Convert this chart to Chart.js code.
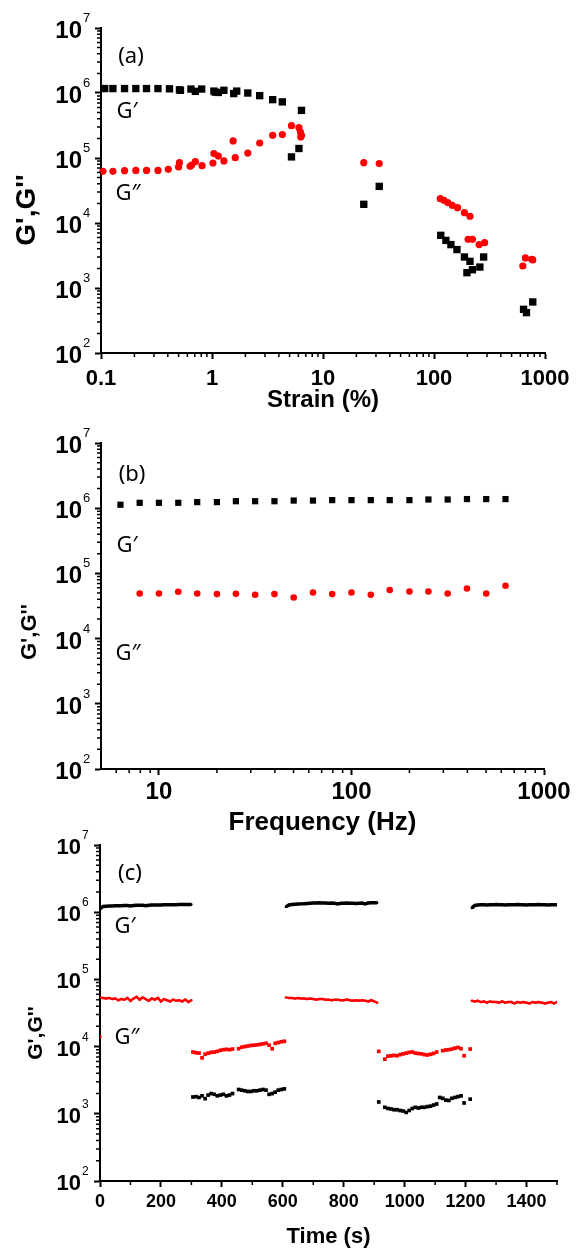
<!DOCTYPE html>
<html>
<head>
<meta charset="utf-8">
<script src="https://cdn.jsdelivr.net/npm/chart.js@4.4.1/dist/chart.umd.min.js"></script>
<style>
html, body { margin: 0; padding: 0; background: #fff; }
body { width: 579px; height: 1252px; position: relative; overflow: hidden; }
canvas { position: absolute; left: 0; }
</style>
</head>
<body>
<canvas id="chartA" width="579" height="420" style="top:0px"></canvas>
<canvas id="chartB" width="579" height="420" style="top:420px"></canvas>
<canvas id="chartC" width="579" height="426" style="top:826px"></canvas>
<script>
// ---- (a) strain sweep ----
const strainTicks = [0.1, 1, 10, 100, 1000];
const strainLabels = ["0.1", "1", "10", "100", "1000"];
const strainGp = [0.108, 0.128, 0.163, 0.206, 0.257, 0.326, 0.414, 0.509, 0.52, 0.646,
  0.708, 0.807, 1.04, 1.07, 1.14, 1.28, 1.57, 1.67, 2.1, 2.69,
  3.52, 4.3, 5.2, 6.07, 6.4, 23.3, 32.1, 115, 128, 142,
  161, 188, 211, 280, 198, 222, 259, 641, 681, 776];
const gpStrain = [1.17e6, 1.17e6, 1.17e6, 1.17e6, 1.17e6, 1.17e6, 1.16e6, 1.12e6, 1.1e6, 1.15e6,
  1.06e6, 1.15e6, 1.07e6, 1.03e6, 1.02e6, 1.1e6, 0.98e6, 1.07e6, 1.0e6, 0.91e6,
  0.79e6, 0.73e6, 1.04e5, 1.4e5, 5.4e5, 1.94e4, 3.66e4, 6.46e3, 5.4e3, 4.65e3,
  3.9e3, 3.0e3, 2.57e3, 3.0e3, 1.72e3, 1.91e3, 2.1e3, 470, 418, 610];
const strainGpp = [0.104, 0.128, 0.163, 0.206, 0.257, 0.326, 0.404, 0.5, 0.509, 0.635,
  0.655, 0.708, 0.813, 1.02, 1.04, 1.14, 1.28, 1.55, 1.62, 2.1,
  2.69, 3.52, 4.3, 5.2, 6.07, 6.26, 6.4, 6.3, 23.3, 32.1,
  114, 123, 133, 146, 163, 188, 211, 203, 222, 255,
  286, 631, 666, 759, 776];
const gppStrain = [6.24e4, 6.24e4, 6.38e4, 6.45e4, 6.45e4, 6.45e4, 6.7e4, 7.28e4, 8.48e4, 7.45e4,
  7.8e4, 8.78e4, 7.62e4, 8.37e4, 1.17e5, 1.07e5, 9.0e4, 1.83e5, 1.01e5, 1.19e5,
  1.7e5, 2.23e5, 2.29e5, 3.14e5, 2.93e5, 2.51e5, 2.23e5, 2.1e5, 8.48e4, 8.2e4,
  2.37e4, 2.23e4, 2.06e4, 1.87e4, 1.72e4, 1.44e4, 1.27e4, 5.6e3, 5.6e3, 4.65e3,
  4.98e3, 2.18e3, 2.9e3, 2.76e3, 2.7e3];

// ---- (b) frequency sweep ----
const freqTicks = [10, 100, 1000];
const freqLabels = ["10", "100", "1000"];
const freqGp = [6.31, 7.94, 10, 12.6, 15.8, 20, 25.1, 31.6, 39.8, 50.1, 63.1,
  79.4, 100, 126, 158, 200, 251, 316, 398, 501, 631];
const gpFreq = [1.13e6, 1.21e6, 1.21e6, 1.21e6, 1.24e6, 1.24e6, 1.28e6, 1.28e6, 1.28e6, 1.31e6, 1.31e6,
  1.33e6, 1.33e6, 1.33e6, 1.33e6, 1.33e6, 1.36e6, 1.36e6, 1.38e6, 1.38e6, 1.38e6];
const freqGpp = [7.94, 10, 12.6, 15.8, 20, 25.1, 31.6, 39.8, 50.1, 63.1,
  79.4, 100, 126, 158, 200, 251, 316, 398, 501, 631];
const gppFreq = [4.92e4, 4.92e4, 5.22e4, 4.92e4, 4.81e4, 4.86e4, 4.7e4, 4.81e4, 4.27e4, 5.1e4,
  4.81e4, 5.1e4, 4.7e4, 5.55e4, 5.29e4, 5.29e4, 4.92e4, 5.87e4, 4.92e4, 6.45e4];

// ---- (c) time sweep (recovery) ----
const timeTicks = [0, 200, 400, 600, 800, 1000, 1200, 1400];
const timeLabels = ["0", "200", "400", "600", "800", "1000", "1200", "1400"];
const tHi1 = [0, 10, 20, 30, 40, 50, 60, 70, 80, 90, 100, 110, 120, 130, 140, 150, 160, 170, 180, 190,
  200, 210, 220, 230, 240, 250, 260, 270, 280, 290, 300];
const gpHi1 = [1.12e6, 1.22e6, 1.23e6, 1.24e6, 1.24e6, 1.25e6, 1.25e6, 1.25e6, 1.26e6, 1.26e6,
  1.24e6, 1.26e6, 1.27e6, 1.27e6, 1.27e6, 1.25e6, 1.27e6, 1.28e6, 1.28e6, 1.28e6,
  1.28e6, 1.29e6, 1.29e6, 1.29e6, 1.29e6, 1.29e6, 1.30e6, 1.30e6, 1.30e6, 1.30e6, 1.30e6];
const gppHi1 = [5.4e4, 5.3e4, 5.2e4, 5.3e4, 5.1e4, 5.2e4, 4.9e4, 5.1e4, 5.0e4, 5.3e4,
  4.8e4, 5.2e4, 5.5e4, 5.0e4, 5.4e4, 5.1e4, 4.8e4, 5.2e4, 5.0e4, 5.3e4,
  4.7e4, 5.1e4, 4.9e4, 4.7e4, 5.0e4, 4.8e4, 4.9e4, 4.7e4, 5.0e4, 4.6e4, 4.9e4];
const tHi2 = [610, 620, 630, 640, 650, 660, 670, 680, 690, 700, 710, 720, 730, 740, 750, 760, 770, 780,
  790, 800, 810, 820, 830, 840, 850, 860, 870, 880, 890, 900, 910];
const gpHi2 = [1.20e6, 1.28e6, 1.30e6, 1.31e6, 1.32e6, 1.33e6, 1.34e6, 1.35e6, 1.36e6, 1.37e6,
  1.37e6, 1.38e6, 1.37e6, 1.37e6, 1.36e6, 1.37e6, 1.36e6, 1.33e6, 1.36e6, 1.36e6,
  1.37e6, 1.36e6, 1.36e6, 1.35e6, 1.36e6, 1.37e6, 1.33e6, 1.37e6, 1.38e6, 1.38e6, 1.38e6];
const gppHi2 = [5.4e4, 5.3e4, 5.3e4, 5.2e4, 5.3e4, 5.2e4, 5.2e4, 5.1e4, 5.2e4, 5.1e4,
  5.0e4, 5.1e4, 5.1e4, 5.0e4, 5.0e4, 4.9e4, 5.0e4, 5.0e4, 4.9e4, 4.9e4,
  5.0e4, 4.9e4, 4.8e4, 4.9e4, 4.8e4, 4.9e4, 4.8e4, 4.7e4, 4.9e4, 4.7e4, 4.5e4];
const tHi3 = [1220, 1230, 1240, 1250, 1260, 1270, 1280, 1290, 1300, 1310, 1320, 1330, 1340, 1350, 1360,
  1370, 1380, 1390, 1400, 1410, 1420, 1430, 1440, 1450, 1460, 1470, 1480, 1490, 1500];
const gpHi3 = [1.15e6, 1.26e6, 1.28e6, 1.29e6, 1.29e6, 1.28e6, 1.29e6, 1.29e6, 1.30e6, 1.29e6,
  1.29e6, 1.28e6, 1.29e6, 1.29e6, 1.29e6, 1.30e6, 1.29e6, 1.29e6, 1.28e6, 1.29e6,
  1.29e6, 1.29e6, 1.30e6, 1.29e6, 1.29e6, 1.28e6, 1.29e6, 1.29e6, 1.29e6];
const gppHi3 = [4.8e4, 4.7e4, 4.8e4, 4.6e4, 4.7e4, 4.5e4, 4.7e4, 4.6e4, 4.6e4, 4.5e4,
  4.7e4, 4.5e4, 4.6e4, 4.6e4, 4.4e4, 4.6e4, 4.5e4, 4.6e4, 4.5e4, 4.4e4,
  4.6e4, 4.5e4, 4.6e4, 4.5e4, 4.4e4, 4.5e4, 4.6e4, 4.4e4, 4.6e4];
const tLo1 = [305, 315, 325, 335, 345, 355, 365, 375, 385, 395, 405, 415, 425, 435, 445, 455, 465, 475,
  485, 495, 505, 515, 525, 535, 545, 555, 565, 575, 585, 595, 605];
const gpLo1 = [1.78e3, 1.80e3, 1.75e3, 1.85e3, 1.68e3, 1.90e3, 2.00e3, 1.95e3, 1.85e3, 1.90e3,
  1.95e3, 1.85e3, 1.90e3, 2.00e3, null, 2.30e3, 2.25e3, 2.20e3, 2.15e3, 2.15e3,
  2.20e3, 2.20e3, 2.25e3, 2.30e3, 2.25e3, 1.95e3, 2.00e3, 2.10e3, 2.25e3, 2.30e3, 2.35e3];
const gppLo1 = [8.3e3, 8.1e3, 8.0e3, 6.8e3, 7.7e3, 8.0e3, 8.2e3, 8.3e3, 8.5e3, 8.8e3,
  9.0e3, 9.1e3, 9.0e3, 9.2e3, null, 9.3e3, 9.8e3, 1.0e4, 1.02e4, 1.04e4,
  1.05e4, 1.06e4, 1.08e4, 1.1e4, 1.12e4, 1.05e4, 9.3e3, 1.12e4, 1.15e4, 1.18e4, 1.2e4];
const tLo2 = [915, 925, 935, 945, 955, 965, 975, 985, 995, 1005, 1015, 1025, 1035, 1045, 1055, 1065,
  1075, 1085, 1095, 1105, 1115, 1125, 1135, 1145, 1155, 1165, 1175, 1185, 1195, 1205, 1215];
const gpLo2 = [1.50e3, null, 1.25e3, 1.20e3, 1.18e3, 1.15e3, 1.15e3, 1.12e3, 1.10e3, 1.05e3,
  1.12e3, 1.20e3, 1.25e3, 1.22e3, 1.25e3, 1.25e3, 1.28e3, 1.30e3, 1.35e3, 1.40e3,
  1.75e3, 1.70e3, 1.60e3, 1.58e3, 1.70e3, 1.75e3, 1.80e3, 1.85e3, 1.45e3, null, 1.65e3];
const gppLo2 = [8.5e3, null, 6.5e3, 7.2e3, 7.3e3, 7.4e3, 7.3e3, 7.6e3, 7.8e3, 8.0e3,
  8.2e3, 8.3e3, 8.0e3, 7.9e3, 7.8e3, 7.6e3, 7.5e3, 7.7e3, 7.9e3, 8.3e3,
  null, 8.7e3, 8.9e3, 9.0e3, 9.2e3, 9.5e3, 9.7e3, 9.3e3, 7.3e3, null, 9.2e3];
const tStart = [0];
const gppStart = [1.4e4];

const modTicks = [1e2, 1e3, 1e4, 1e5, 1e6, 1e7];

const BOLD = '"Liberation Sans", Arial, sans-serif';
const NOTE = '"Noto Sans", "Open Sans", sans-serif';
const RED = '#ff0000';

function pts(xs, ys) {
  return xs.map((x, i) => ({ x: x, y: ys[i] }));
}

// minor ticks, 10^n tick labels, rotated y title and the (a)/G' notes
const panelText = {
  id: 'panelText',
  afterDraw(chart, args, o) {
    const ctx = chart.ctx;
    const area = chart.chartArea;
    const xs = chart.scales.x, ys = chart.scales.y;
    ctx.save();
    ctx.strokeStyle = '#000';
    ctx.lineWidth = 1.5;
    ctx.beginPath();
    // x minor ticks
    if (xs.type === 'logarithmic') {
      for (let k = Math.floor(Math.log10(xs.min)); k < Math.ceil(Math.log10(xs.max)); k++) {
        for (let m = 2; m <= 9; m++) {
          const v = m * Math.pow(10, k);
          if (v <= xs.min || v >= xs.max) continue;
          const px = xs.getPixelForValue(v);
          ctx.moveTo(px, area.bottom);
          ctx.lineTo(px, area.bottom + 4);
        }
      }
    } else {
      for (let v = o.minorStep; v <= xs.max; v += 2 * o.minorStep) {
        const px = xs.getPixelForValue(v);
        ctx.moveTo(px, area.bottom);
        ctx.lineTo(px, area.bottom + 4);
      }
    }
    // y minor ticks
    for (let k = 2; k < 7; k++) {
      for (let m = 2; m <= 9; m++) {
        const py = ys.getPixelForValue(m * Math.pow(10, k));
        ctx.moveTo(area.left, py);
        ctx.lineTo(area.left - 4, py);
      }
    }
    ctx.stroke();

    // y tick labels: "10" with raised exponent
    ctx.fillStyle = '#000';
    ctx.textBaseline = 'alphabetic';
    ys.ticks.forEach(t => {
      const py = ys.getPixelForValue(t.value);
      const e = Math.round(Math.log10(t.value));
      ctx.font = 'bold ' + o.tickSize + 'px ' + BOLD;
      ctx.textAlign = 'right';
      ctx.fillText('10', area.left - 19, py + o.base);
      ctx.font = o.expSize + 'px ' + BOLD;
      ctx.textAlign = 'left';
      ctx.fillText(String(e), area.left - 18, py + o.base - o.expRise);
    });

    // y axis title
    ctx.save();
    ctx.translate(o.titleX, o.titleY);
    ctx.rotate(-Math.PI / 2);
    ctx.font = 'bold ' + o.titleSize + 'px ' + BOLD;
    ctx.textAlign = 'center';
    ctx.textBaseline = 'middle';
    ctx.fillText("G',G''", 0, 0);
    ctx.restore();

    // panel tag and curve names
    ctx.font = o.noteSize + 'px ' + NOTE;
    ctx.textAlign = 'center';
    ctx.textBaseline = 'middle';
    o.notes.forEach(n => ctx.fillText(n.text, n.x, n.y));
    ctx.restore();
  }
};

function axisOptions(p) {
  return {
    responsive: false,
    animation: false,
    events: [],
    layout: { padding: { top: p.top, right: p.right, left: 0, bottom: 0 } },
    plugins: {
      legend: { display: false },
      tooltip: { enabled: false },
      panelText: p.text
    },
    scales: {
      x: {
        type: p.xType,
        min: p.xMin,
        max: p.xMax,
        afterBuildTicks: s => { s.ticks = p.xTicks.map(v => ({ value: v })); },
        afterFit: s => { s.height = p.xH; },
        border: { display: true, color: '#000', width: 2 },
        grid: { drawOnChartArea: false, drawTicks: true, tickLength: 6, tickWidth: 2, tickColor: '#000' },
        ticks: {
          color: '#000',
          padding: p.xPad,
          maxRotation: 0,
          autoSkip: false,
          font: { family: BOLD, size: p.xTickSize, weight: 'bold' },
          callback: (v, i) => p.xLabels[i]
        },
        title: {
          display: true,
          text: p.xTitle,
          color: '#000',
          font: { family: BOLD, size: p.xTitleSize, weight: 'bold' },
          padding: { top: 0, bottom: p.xTitlePad }
        }
      },
      y: {
        type: 'logarithmic',
        min: 1e2,
        max: 1e7,
        afterBuildTicks: s => { s.ticks = modTicks.map(v => ({ value: v })); },
        afterFit: s => { s.width = p.left; },
        border: { display: true, color: '#000', width: 2 },
        grid: { drawOnChartArea: false, drawTicks: true, tickLength: 6, tickWidth: 2, tickColor: '#000' },
        ticks: { display: false }
      }
    }
  };
}

// (a)
new Chart(document.getElementById('chartA'), {
  type: 'scatter',
  data: {
    datasets: [
      { data: pts(strainGp, gpStrain), pointStyle: 'rect', pointRadius: 5.2, pointBorderWidth: 0,
        pointBackgroundColor: '#000', clip: false },
      { data: pts(strainGpp, gppStrain), pointStyle: 'circle', pointRadius: 3.6, pointBorderWidth: 0,
        pointBackgroundColor: RED, clip: false }
    ]
  },
  options: axisOptions({
    top: 28, right: 34, left: 101, xH: 67,
    xType: 'logarithmic', xMin: 0.1, xMax: 1000, xTicks: strainTicks, xLabels: strainLabels,
    xPad: 7, xTickSize: 22, xTitle: 'Strain (%)', xTitleSize: 24, xTitlePad: 5,
    text: {
      tickSize: 24, expSize: 13, base: 10, expRise: 16,
      titleX: 27, titleY: 210, titleSize: 28, noteSize: 22,
      notes: [
        { text: '(a)', x: 131, y: 57 },
        { text: 'G\u2032', x: 127, y: 112 },
        { text: 'G\u2033', x: 128, y: 194 }
      ]
    }
  }),
  plugins: [panelText]
});

// (b)
new Chart(document.getElementById('chartB'), {
  type: 'scatter',
  data: {
    datasets: [
      { data: pts(freqGp, gpFreq), pointStyle: 'rect', pointRadius: 4.4, pointBorderWidth: 0,
        pointBackgroundColor: '#000', clip: false },
      { data: pts(freqGpp, gppFreq), pointStyle: 'circle', pointRadius: 3.3, pointBorderWidth: 0,
        pointBackgroundColor: RED, clip: false }
    ]
  },
  options: axisOptions({
    top: 23, right: 35, left: 101, xH: 71,
    xType: 'logarithmic', xMin: 5, xMax: 1000, xTicks: freqTicks, xLabels: freqLabels,
    xPad: 3, xTickSize: 24, xTitle: 'Frequency (Hz)', xTitleSize: 26, xTitlePad: 2,
    text: {
      tickSize: 24, expSize: 13, base: 10, expRise: 16,
      titleX: 30, titleY: 212, titleSize: 22, noteSize: 22,
      notes: [
        { text: '(b)', x: 132, y: 55 },
        { text: 'G\u2032', x: 127, y: 126 },
        { text: 'G\u2033', x: 128, y: 234 }
      ]
    }
  }),
  plugins: [panelText]
});

// (c)
const lineSet = (xs, ys, color, w) => ({
  data: pts(xs, ys), showLine: true, borderColor: color, borderWidth: w,
  pointRadius: 1.2, pointBorderWidth: 0, pointBackgroundColor: color, spanGaps: false
});
const dotSet = (xs, ys, color, style, r) => ({
  data: pts(xs, ys), showLine: false, pointStyle: style, pointRadius: r,
  pointBorderWidth: 0, pointBackgroundColor: color
});

new Chart(document.getElementById('chartC'), {
  type: 'scatter',
  data: {
    datasets: [
      lineSet(tHi1, gpHi1, '#000', 3.5),
      lineSet(tHi2, gpHi2, '#000', 3.5),
      lineSet(tHi3, gpHi3, '#000', 3.5),
      lineSet(tHi1, gppHi1, RED, 2.5),
      lineSet(tHi2, gppHi2, RED, 2.5),
      lineSet(tHi3, gppHi3, RED, 2.5),
      dotSet(tLo1, gpLo1, '#000', 'rect', 2.6),
      dotSet(tLo2, gpLo2, '#000', 'rect', 2.6),
      dotSet(tLo1, gppLo1, RED, 'rect', 2.6),
      dotSet(tLo2, gppLo2, RED, 'rect', 2.6),
      dotSet(tStart, gppStart, RED, 'circle', 1.8)
    ]
  },
  options: axisOptions({
    top: 19, right: 22, left: 100, xH: 71,
    xType: 'linear', xMin: 0, xMax: 1500, xTicks: timeTicks, xLabels: timeLabels,
    xPad: 4, xTickSize: 18, xTitle: 'Time (s)', xTitleSize: 22, xTitlePad: 2,
    text: {
      tickSize: 22, expSize: 12, base: 9, expRise: 15, minorStep: 100,
      titleX: 36, titleY: 207, titleSize: 21, noteSize: 22,
      notes: [
        { text: '(c)', x: 130, y: 48 },
        { text: 'G\u2032', x: 125, y: 101 },
        { text: 'G\u2033', x: 127, y: 212 }
      ]
    }
  }),
  plugins: [panelText]
});
</script>
</body>
</html>
